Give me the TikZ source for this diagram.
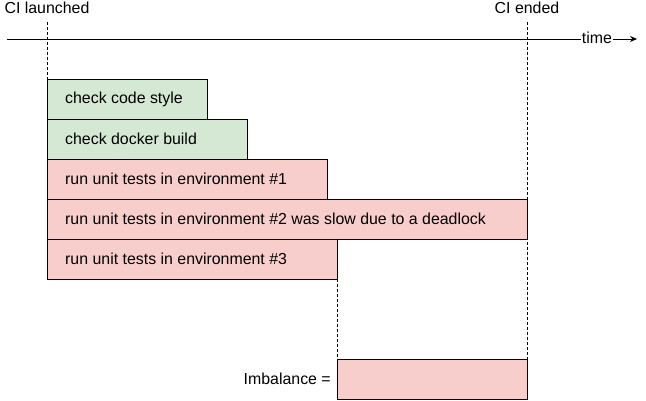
\documentclass[tikz,border=0pt]{standalone}
\usepackage{fontspec}
\setmainfont{Liberation Sans}
\usetikzlibrary{arrows.meta}
\definecolor{gfill}{HTML}{D5E8D4}
\definecolor{rfill}{HTML}{F8CECC}
\begin{document}
\begin{tikzpicture}[x=1pt,y=-1pt,
  every node/.style={font=\fontsize{15.9}{18}\selectfont, inner sep=0pt},
  job/.style={draw=black, line width=0.8pt},
  gjob/.style={job, fill=gfill},
  rjob/.style={job, fill=rfill},
  guide/.style={line width=0.5pt, dash pattern=on 2.5pt off 2.5pt}]
\useasboundingbox (0,0) rectangle (646,400);
% boxes
\path[gjob] (47,79) rectangle (207,119);
\path[gjob] (47,119) rectangle (247,159);
\path[rjob] (47,159) rectangle (327,199);
\path[rjob] (47,199) rectangle (527,239);
\path[rjob] (47,239) rectangle (337,279);
\path[rjob] (337,359) rectangle (527,399);
\node[anchor=west] (j1) at (65,99) {check code style};
\node[anchor=west] (j2) at (65,139) {check docker build};
\node[anchor=west] (j3) at (65,179) {run unit tests in environment \#1};
\node[anchor=west] (j4) at (65,219) {run unit tests in environment \#2 was slow due to a deadlock};
\node[anchor=west] (j5) at (65,259) {run unit tests in environment \#3};
\node[anchor=east] (imb) at (331,379) {Imbalance =};
% labels
\node (launch) at (47,8) {CI launched};
\node (ended) at (527,8) {CI ended};
\node (time) at (597,38) {time};
% axis
\coordinate (ax0) at (7,39);
\draw[line width=0.8pt] (ax0) -- ([xshift=-1pt]time.west |- ax0);
\draw[line width=0.8pt, -{Stealth[length=7pt,width=6pt]}] ([xshift=1pt]time.east |- ax0) -- (637,39);
% guides
\draw[guide] (47,22) -- (47,79);
\draw[guide] (527,22) -- (527,359);
\draw[guide] (337,279) -- (337,359);
\end{tikzpicture}
\end{document}
